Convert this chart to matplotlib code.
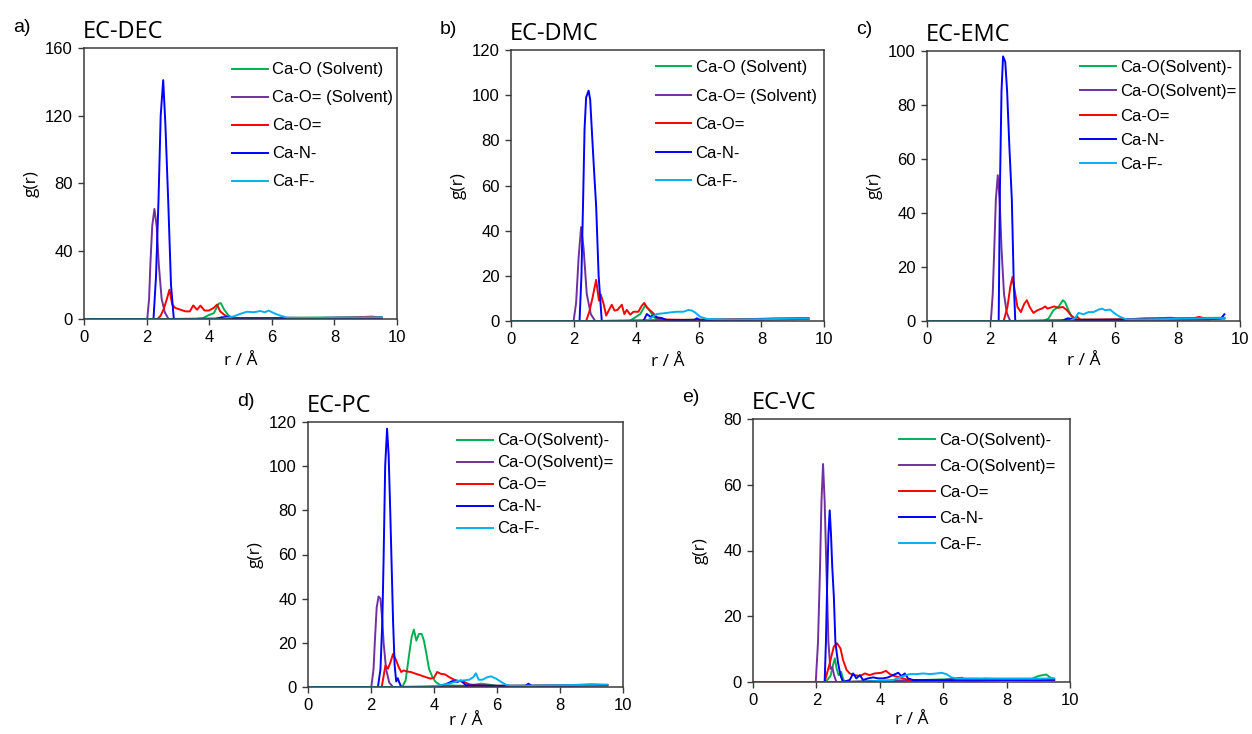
import matplotlib
matplotlib.use("Agg")
import matplotlib.pyplot as plt

# ---------------------------------------------------------------------------
# Radial distribution functions g(r) around Ca for five EC-based electrolytes
# Series keys: oS = Ca-O(Solvent)-, oSd = Ca-O(Solvent)=, od = Ca-O=,
#              n = Ca-N-, f = Ca-F-
# ---------------------------------------------------------------------------

# (a) EC-DEC
dec_oS_r = [0, 3.6, 3.8, 3.95, 4.15, 4.3, 4.37, 4.48, 4.62, 4.78, 5.2, 6.0, 7.0, 8.0, 9.0, 9.5]
dec_oS_g = [0, 0, 0.5, 2.0, 3.5, 9.0, 9.4, 5.5, 2.0, 0.6, 0.4, 0.5, 0.8, 0.9, 1.1, 1.2]
dec_oSd_r = [0, 2.02, 2.08, 2.12, 2.18, 2.25, 2.32, 2.39, 2.48, 2.58, 2.7, 4.0, 6.0, 8.0, 9.5]
dec_oSd_g = [0, 0, 12, 32, 55, 65, 55, 32, 12, 4, 0, 0.3, 0.5, 0.6, 0.8]
dec_od_r = [0, 2.35, 2.45, 2.55, 2.65, 2.73, 2.82, 2.92, 3.08, 3.24, 3.38, 3.49, 3.61, 3.72,
            3.85, 3.99, 4.14, 4.25, 4.35, 4.48, 4.62, 4.78, 5.5, 6.5, 7.5, 8.5, 9.2, 9.5]
dec_od_g = [0, 0, 2, 6, 12, 17.3, 8.5, 6.5, 5.5, 4.5, 4.5, 8, 5.5, 7.9,
            5, 5, 6.5, 8.5, 4.5, 2.5, 1, 0.3, 0.5, 0.7, 0.6, 0.9, 1.4, 0.8]
dec_n_r = [0, 2.22, 2.3, 2.38, 2.45, 2.53, 2.6, 2.69, 2.78, 2.87,
           4.2, 4.4, 4.6, 4.8, 6.0, 7.0, 8.0, 9.0, 9.5]
dec_n_g = [0, 0, 25, 70, 120, 141, 115, 70, 20, 0,
           0, 1, 1.2, 0.3, 0.3, 0.5, 0.3, 0.5, 0.6]
dec_f_r = [0, 4.4, 4.78, 4.99, 5.2, 5.42, 5.63, 5.78, 5.9, 6.06, 6.27, 6.48, 7.0, 8.0, 9.0, 9.5]
dec_f_g = [0, 0, 1.5, 3, 4.3, 4, 4.7, 4, 5, 3.5, 2, 0.8, 0.6, 0.8, 0.9, 1.0]

# (b) EC-DMC
dmc_oS_r = [0, 3.79, 3.97, 4.13, 4.29, 4.39, 4.5, 4.6, 4.77, 5.5, 6.5, 7.5, 8.5, 9.5]
dmc_oS_g = [0, 0, 1.6, 3.1, 7.0, 5.3, 3.1, 1.3, 0.4, 0.5, 0.6, 0.8, 1.2, 1.3]
dmc_oSd_r = [0, 2.0, 2.08, 2.16, 2.24, 2.32, 2.42, 2.55, 2.69, 4.0, 6.0, 8.0, 9.5]
dmc_oSd_g = [0, 0, 8, 28, 41.6, 32, 12, 3, 0, 0.3, 0.5, 0.8, 1.0]
dmc_od_r = [0, 2.4, 2.5, 2.6, 2.72, 2.81, 2.87, 2.96, 3.04, 3.12, 3.22, 3.31, 3.4, 3.54, 3.62,
            3.7, 3.81, 3.91, 4.07, 4.18, 4.26, 4.34, 4.45, 4.55, 4.66, 4.82, 5.5, 6.5, 7.5, 8.5, 9.5]
dmc_od_g = [0, 0, 4, 10, 18.2, 9, 11.7, 7.5, 2.4, 4.6, 7.2, 4.6, 4.9, 7.2, 3.1,
            4.9, 2.8, 4.1, 4.1, 6.8, 8, 6, 4.6, 3.4, 1.6, 0.7, 0.5, 0.6, 0.7, 1.0, 1.1]
dmc_n_r = [0, 2.19, 2.25, 2.3, 2.35, 2.4, 2.48, 2.53, 2.6, 2.66, 2.72, 2.8, 2.9,
           4.23, 4.34, 4.45, 4.55, 4.66, 4.82, 4.98, 5.85, 5.94, 6.04, 7.0, 8.0, 9.0, 9.5]
dmc_n_g = [0, 0, 20, 51, 85, 99, 102, 98, 80, 65, 51, 20, 0,
           0, 3.1, 1.9, 2.4, 1.6, 1.3, 0.4, 0.4, 1.2, 0.3, 0.4, 0.6, 0.8, 0.9]
dmc_f_r = [0, 4.34, 4.5, 4.66, 4.87, 5.09, 5.3, 5.51, 5.67, 5.78, 5.88, 6.04, 6.26, 7.0, 8.0, 9.0, 9.5]
dmc_f_g = [0, 0, 1.6, 3.1, 3.4, 3.8, 4.1, 4.1, 4.9, 4.6, 3.8, 1.9, 0.9, 0.6, 0.8, 1.0, 1.0]

# (c) EC-EMC
emc_oS_r = [0, 3.72, 3.88, 4.04, 4.2, 4.34, 4.41, 4.52, 4.63, 4.79, 5.5, 6.5, 7.0, 7.5, 8.5, 9.5]
emc_oS_g = [0, 0, 0.9, 4, 5.2, 7.7, 7, 4, 1.5, 0.5, 0.5, 0.7, 1.0, 0.9, 1.1, 1.2]
emc_oSd_r = [0, 2.04, 2.1, 2.15, 2.2, 2.26, 2.32, 2.38, 2.46, 2.55, 2.66, 4.0, 6.0, 7.8, 8.0, 9.5]
emc_oSd_g = [0, 0, 10, 27, 45, 54, 45, 27, 10, 3, 0, 0.3, 0.5, 1.2, 0.8, 0.9]
emc_od_r = [0, 2.45, 2.57, 2.66, 2.73, 2.82, 2.89, 3.0, 3.1, 3.19, 3.28, 3.4, 3.53, 3.67, 3.78, 3.85,
            3.94, 4.06, 4.2, 4.34, 4.47, 4.6, 4.73, 4.79, 4.89, 5.5, 6.5, 7.5, 8.5, 8.7, 8.9, 9.5]
emc_od_g = [0, 0, 5.2, 12.6, 16.3, 10, 5.2, 3.3, 6.2, 7.7, 5.2, 3.0, 4, 4.6, 5.4, 4.6,
            4.9, 5.4, 4.9, 5.2, 4, 2.1, 0.9, 1.7, 0.5, 0.5, 0.6, 0.8, 1.0, 1.5, 0.9, 1.0]
emc_n_r = [0, 2.29, 2.33, 2.38, 2.43, 2.5, 2.56, 2.63, 2.71, 2.77, 2.82,
           4.3, 4.5, 4.8, 6.0, 7.0, 8.0, 9.0, 9.4, 9.5]
emc_n_g = [0, 0, 49, 85, 98, 96, 85, 65, 45, 15, 0,
           0, 1.0, 0.4, 0.4, 0.5, 0.5, 0.6, 1.0, 2.5]
emc_f_r = [0, 4.57, 4.73, 4.84, 5.0, 5.16, 5.32, 5.48, 5.59, 5.69, 5.85, 6.01, 6.17, 6.38,
           7.0, 8.0, 9.0, 9.5]
emc_f_g = [0, 0, 1.1, 3, 2.5, 3.3, 3.3, 4.2, 4.6, 4, 4.2, 2.7, 1.5, 0.6,
           0.6, 0.8, 1.0, 1.1]

# (d) EC-PC
pc_oS_r = [0, 2.99, 3.1, 3.2, 3.29, 3.36, 3.44, 3.52, 3.61, 3.68, 3.76, 3.84, 3.95, 4.05, 4.21,
           5.0, 5.5, 6.0, 7.0, 8.0, 9.0, 9.5]
pc_oS_g = [0, 0, 3, 13.6, 22.6, 26, 21, 24, 24, 21, 15, 8.3, 4.5, 2.3, 0.8,
           0.5, 1.5, 0.6, 0.5, 0.7, 1.2, 0.9]
pc_oSd_r = [0, 2.01, 2.08, 2.12, 2.18, 2.24, 2.3, 2.36, 2.4, 2.48, 2.58, 2.7, 4.0, 6.0, 8.0, 9.5]
pc_oSd_g = [0, 0, 8, 20, 36, 41, 40, 30, 20, 8, 2, 0, 0.3, 0.5, 0.6, 0.8]
pc_od_r = [0, 2.34, 2.46, 2.54, 2.62, 2.7, 2.8, 2.88, 2.96, 3.04, 3.12, 3.26, 3.42, 3.57, 3.73,
           3.89, 4.0, 4.1, 4.21, 4.35, 4.48, 4.64, 4.8, 4.96, 5.12, 5.33, 6.0, 7.0, 8.0, 9.0, 9.5]
pc_od_g = [0, 0, 9.8, 8.3, 11.3, 15, 12, 9, 6.8, 7.5, 7.1, 6.8, 6, 5.3, 4.5,
           3.8, 4.2, 6.8, 6, 5.7, 4.5, 3.3, 2.7, 2.3, 1.2, 0.8, 0.5, 0.6, 0.7, 1.0, 0.9]
pc_n_r = [0, 2.22, 2.3, 2.36, 2.4, 2.45, 2.51, 2.56, 2.61, 2.65, 2.7, 2.75, 2.8, 2.85, 2.9, 2.96,
          4.05, 4.37, 4.59, 4.75, 4.85, 5.01, 6.0, 6.9, 7.0, 7.1, 8.0, 9.0, 9.5]
pc_n_g = [0, 0, 8, 30, 58, 100, 117, 105, 80, 58, 30, 10, 2.5, 4, 2, 0,
          0, 1.2, 2.7, 2.3, 3, 0.8, 0.5, 0.5, 1.5, 0.5, 0.5, 0.8, 0.8]
pc_f_r = [0, 3.84, 4.48, 4.75, 4.96, 5.12, 5.25, 5.33, 5.42, 5.54, 5.7, 5.81, 5.97, 6.13, 6.29,
          6.45, 7.0, 8.0, 9.0, 9.5]
pc_f_g = [0, 0, 1.5, 2.7, 3, 3.3, 4.5, 6.2, 3.3, 3.3, 4.5, 4.8, 3.8, 2.3, 1,
          0.5, 0.6, 0.8, 1.0, 1.1]

# (e) EC-VC
vc_oS_r = [0, 2.3, 2.45, 2.52, 2.58, 2.64, 2.7, 2.78, 2.84, 2.9, 4.0, 5.0, 6.0, 7.0, 8.0,
           8.8, 9.0, 9.25, 9.4, 9.5]
vc_oS_g = [0, 0, 2, 5, 7.2, 4, 2.1, 3.1, 1, 0, 0.3, 0.5, 0.8, 0.9, 1.0,
           1.0, 1.8, 2.3, 1.2, 1.0]
vc_oSd_r = [0, 1.98, 2.05, 2.11, 2.16, 2.21, 2.26, 2.32, 2.38, 2.44, 2.5, 2.56, 2.63,
            4.0, 5.0, 6.0, 6.6, 6.7, 7.3, 8.0, 9.0, 9.5]
vc_oSd_g = [0, 0, 12, 33, 55, 66.3, 55, 33, 12, 4, 4.5, 2, 0,
            0.3, 0.5, 0.6, 1.3, 0.5, 1.0, 0.8, 0.6, 0.5]
vc_od_r = [0, 2.26, 2.42, 2.55, 2.65, 2.76, 2.84, 2.95, 3.05, 3.21, 3.37, 3.53, 3.68, 3.84,
           4.05, 4.19, 4.32, 4.47, 4.63, 4.84, 5.05, 6.0, 7.0, 8.0, 9.0, 9.5]
vc_od_g = [0, 0, 5.7, 10.8, 11.8, 10.2, 6.7, 3.7, 2.6, 2.1, 1.8, 2.6, 2.1, 2.6,
           2.8, 3.4, 2.4, 1.8, 1.4, 0.8, 0.4, 0.5, 0.6, 0.8, 0.6, 0.7]
vc_n_r = [0, 2.26, 2.3, 2.34, 2.38, 2.42, 2.46, 2.5, 2.55, 2.6, 2.68, 2.76, 2.84,
          3.05, 3.16, 3.26, 3.37, 3.47, 3.63, 3.79, 3.95, 4.1, 4.26, 4.42, 4.58, 4.68, 4.79,
          4.89, 5.05, 6.0, 7.0, 8.0, 9.0, 9.5]
vc_n_g = [0, 0, 12, 30, 45, 52.2, 45, 35, 26, 12, 6, 2, 0,
          0.6, 2.6, 1.1, 2.1, 0.6, 1.1, 1.4, 1.1, 1.1, 1.4, 2.1, 2.8, 1.8, 2.6,
          1.1, 0.6, 0.5, 0.4, 0.6, 0.5, 0.7]
vc_f_r = [0, 3.37, 4.42, 4.74, 4.95, 5.16, 5.37, 5.58, 5.79, 5.95, 6.1, 6.26, 6.42, 6.63, 6.95,
          8.0, 9.0, 9.5]
vc_f_g = [0, 0, 0.6, 1.8, 2.4, 2.4, 2.6, 2.4, 2.6, 2.8, 2.4, 1.4, 1.1, 1.1, 1.1,
          1.0, 1.0, 1.1]

labels_ab = ["Ca-O (Solvent)", "Ca-O= (Solvent)", "Ca-O=", "Ca-N-", "Ca-F-"]
labels_cde = ["Ca-O(Solvent)-", "Ca-O(Solvent)=", "Ca-O=", "Ca-N-", "Ca-F-"]
colors = ["#00B050", "#7030A0", "#FF0000", "#0000FF", "#00B0F0"]

x_ticks = [0, 2, 4, 6, 8, 10]

panels = [
    dict(letter="a)", title="EC-DEC", labels=labels_ab, ymax=160, ystep=40,
         box=(84, 48, 397, 319), leg=(0.473, 0.947, 0.78), xlab=42,
         series=[(dec_oS_r, dec_oS_g), (dec_oSd_r, dec_oSd_g), (dec_od_r, dec_od_g),
                 (dec_n_r, dec_n_g), (dec_f_r, dec_f_g)]),
    dict(letter="b)", title="EC-DMC", labels=labels_ab, ymax=120, ystep=20,
         box=(511, 50, 824, 321), leg=(0.462, 0.962, 0.81), xlab=41,
         series=[(dmc_oS_r, dmc_oS_g), (dmc_oSd_r, dmc_oSd_g), (dmc_od_r, dmc_od_g),
                 (dmc_n_r, dmc_n_g), (dmc_f_r, dmc_f_g)]),
    dict(letter="c)", title="EC-EMC", labels=labels_cde, ymax=100, ystep=20,
         box=(927, 51, 1240, 321), leg=(0.489, 0.967, 0.56), xlab=40,
         series=[(emc_oS_r, emc_oS_g), (emc_oSd_r, emc_oSd_g), (emc_od_r, emc_od_g),
                 (emc_n_r, emc_n_g), (emc_f_r, emc_f_g)]),
    dict(letter="d)", title="EC-PC", labels=labels_cde, ymax=120, ystep=20,
         box=(308, 422, 623, 687), leg=(0.472, 0.957, 0.42), xlab=34,
         series=[(pc_oS_r, pc_oS_g), (pc_oSd_r, pc_oSd_g), (pc_od_r, pc_od_g),
                 (pc_n_r, pc_n_g), (pc_f_r, pc_f_g)]),
    dict(letter="e)", title="EC-VC", labels=labels_cde, ymax=80, ystep=20,
         box=(753, 419, 1070, 682), leg=(0.46, 0.948, 0.66), xlab=38,
         series=[(vc_oS_r, vc_oS_g), (vc_oSd_r, vc_oSd_g), (vc_od_r, vc_od_g),
                 (vc_n_r, vc_n_g), (vc_f_r, vc_f_g)]),
]

W, H = 1252, 734
fig = plt.figure(figsize=(W / 100, H / 100), dpi=100)

spine_col = "#3a3a3a"
tick_font = "Liberation Sans"
text_font = "Open Sans"

for p in panels:
    x0, y0, x1, y1 = p["box"]
    ax = fig.add_axes([x0 / W, 1 - y1 / H, (x1 - x0) / W, (y1 - y0) / H])
    for (r, g), c, lab in zip(p["series"], colors, p["labels"]):
        ax.plot(r, g, color=c, lw=1.4, label=lab, solid_joinstyle="round")

    ax.set_xlim(0, 10)
    ax.set_ylim(0, p["ymax"])
    ax.set_xticks(x_ticks)
    ax.set_yticks(list(range(0, p["ymax"] + 1, p["ystep"])))
    for s in ax.spines.values():
        s.set_color(spine_col)
        s.set_linewidth(1.1)
    ax.tick_params(direction="out", length=4, width=1.0, color=spine_col,
                   labelsize=12, pad=4, top=False, right=False)
    for t in ax.get_xticklabels() + ax.get_yticklabels():
        t.set_fontfamily(tick_font)

    ax.set_xlabel("r / Å", fontsize=12.5, family=text_font, va="center")
    ax.set_ylabel("g(r)", fontsize=12.5, family=text_font)
    ax.xaxis.set_label_coords(0.5, -p["xlab"] / (y1 - y0))
    ax.yaxis.set_label_coords(-44 / (x1 - x0), 0.5)

    lx, ly, lsp = p["leg"]
    ax.legend(loc="upper left", bbox_to_anchor=(lx, ly), frameon=False,
              borderpad=0, borderaxespad=0, handlelength=2.15, handletextpad=0.25,
              labelspacing=lsp, prop={"family": tick_font, "size": 12})

    # panel letter and title
    fig.text((x0 - 71) / W, 1 - (y0 - 21) / H, p["letter"], fontsize=14,
             family=tick_font, ha="left", va="center")
    fig.text((x0 - 1) / W, 1 - (y0 - 16) / H, p["title"], fontsize=17,
             family=text_font, ha="left", va="center")

fig.savefig("out.png", dpi=100)
